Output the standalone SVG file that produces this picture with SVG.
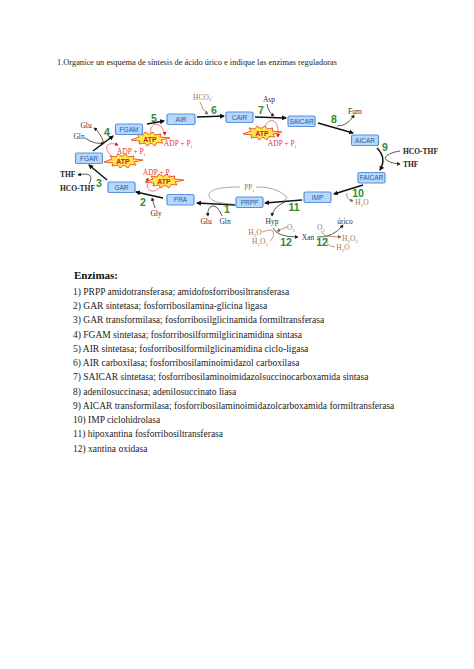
<svg xmlns="http://www.w3.org/2000/svg" width="474" height="669" viewBox="0 0 474 669">
<style>
text{font-family:"Liberation Serif",serif}
.t{font-size:9.5px;fill:#222}
.n rect{fill:#b5d8fb;stroke:#5c8fdc;stroke-width:1.2}
.n text{font-family:"Liberation Sans",sans-serif;font-size:6.5px;fill:#2a5aa0;text-anchor:middle}
.num{font-family:"Liberation Sans",sans-serif;font-size:10.5px;font-weight:bold;fill:#2f8a2f;text-anchor:middle}
.k{font-size:7.5px;fill:#333;text-anchor:middle}
.hk{font-size:7.5px;fill:#222;font-weight:bold}
.b{font-size:7.5px;fill:#a07a58;text-anchor:middle}
.r{font-size:7.5px;fill:#e8323c;text-anchor:middle}
.s{font-size:5px}
.main{fill:none;stroke:#111;stroke-width:1.5;marker-end:url(#ah)}
.thin{fill:none;stroke:#333;stroke-width:.8;marker-end:url(#as)}
.brown{fill:none;stroke:#a07a58;stroke-width:.8;marker-end:url(#ab)}
.bl{fill:none;stroke:#a58a70;stroke-width:.8}
.red{fill:none;stroke:#e8404a;stroke-width:.7;marker-end:url(#ar)}
.atp text{font-family:"Liberation Sans",sans-serif;font-size:7px;font-weight:bold;fill:#c8202a;text-anchor:middle}
</style>
<defs>
<marker id="ah" markerWidth="6" markerHeight="6" refX="4" refY="2.500" orient="auto" markerUnits="userSpaceOnUse"><path d="M0 0L5 2.500L0 5z" fill="#111"/></marker>
<marker id="as" markerWidth="5" markerHeight="5" refX="3" refY="2" orient="auto" markerUnits="userSpaceOnUse"><path d="M0 0L3.500 2L0 4z" fill="#222"/></marker>
<marker id="ab" markerWidth="5" markerHeight="5" refX="3" refY="2" orient="auto" markerUnits="userSpaceOnUse"><path d="M0 0L3.500 2L0 4z" fill="#8a6040"/></marker>
<marker id="ar" markerWidth="5" markerHeight="5" refX="3" refY="2" orient="auto" markerUnits="userSpaceOnUse"><path d="M0 0L3.500 2L0 4z" fill="#e01020"/></marker>
<path id="burst" d="M-19 1L-11-2L-13-5L-7-4L-5-7L-1-4.500L3-7L5-4L11-5L10-2L20-1L11 1L13 4L7 3.500L5 7L1 4L-3 7L-5 4L-11 5L-10 2z" fill="#ffe94a" stroke="#f04a20" stroke-width=".9"/>
</defs>
<text x="57" y="65" style="font-size:8.4px;fill:#222">1.Organice un esquema de síntesis de ácido úrico e indique las enzimas reguladoras</text>
<g id="connectors">
<path class="main" d="M235 205L197 203"/>
<path class="main" d="M163 198L136 192"/>
<path class="main" d="M107 180L89 165"/>
<path class="main" d="M93 151L113 136"/>
<path class="main" d="M147 124L164 121"/>
<path class="main" d="M197 117L224 116"/>
<path class="main" d="M255 117L286 118"/>
<path class="main" d="M318 123L353 133"/>
<path class="main" d="M377 148Q387 158 380 170"/>
<path class="main" d="M363 185L334 194"/>
<path class="main" d="M302 200L265 203"/>
<path class="thin" d="M85 138Q95 145 104 143"/>
<path class="thin" d="M104 143Q100 132 94 128"/>
<path class="thin" d="M89 184Q96 171 78 175"/>
<path class="thin" d="M155 208L152 198"/>
<path class="thin" d="M222 216Q218 205 212 206Q207 208 208 216"/>
<path class="thin" d="M267 104Q268 112 274 116"/>
<path class="thin" d="M337 126Q348 126 354 115"/>
<path class="thin" d="M400 151Q387 153 385 158Q387 163 400 164"/>
<path class="thin" d="M285 202Q273 207 272 216"/>
<path class="thin" d="M273 228Q277 237 298 237"/>
<path class="thin" d="M317 237Q333 238 343 225"/>
<path class="brown" d="M200 102Q202 110 208 114"/>
<path class="brown" d="M347 193Q345 199 353 201"/>
<path class="bl" d="M240 187C215 187 209 191 209 195C209 200 215 203 232 204"/>
<path class="bl" d="M256 187Q275 186 287 197L285 200"/>
<path class="brown" d="M287 227L277 231"/>
<path class="bl" d="M262 232Q268 230 272 230Q276 236 270 241"/>
<path class="brown" d="M321 231L325 236L341 237"/>
<path class="bl" d="M335 247Q325 246 327 238"/>
<path class="red" d="M152 135C146 124 162 118 165 135"/>
<path class="red" d="M113 157C103 150 105 140 118 145"/>
<path class="red" d="M160 187C150 197 145 187 148 178"/>
<path class="red" d="M265 127C268 118 277 118 278 130L278 137"/>
</g>
<g id="atp1" class="atp"><use href="#burst" x="150" y="139"/><text x="150" y="141.500">ATP</text></g>
<g id="atp2" class="atp"><use href="#burst" x="123" y="161"/><text x="123" y="163.500">ATP</text></g>
<g id="atp3" class="atp"><use href="#burst" x="164" y="181"/><text x="164" y="183.500">ATP</text></g>
<g id="atp4" class="atp"><use href="#burst" x="262" y="133"/><text x="262" y="135.500">ATP</text></g>
<g id="node-fgam" class="n"><rect x="115.500" y="124" width="27" height="10.500" rx="1.500"/><text x="129" y="131.500">FGAM</text></g>
<g id="node-air" class="n"><rect x="167" y="114" width="28" height="10.500" rx="1.500"/><text x="181" y="121.500">AIR</text></g>
<g id="node-cair" class="n"><rect x="226" y="112" width="27" height="10.500" rx="1.500"/><text x="239.500" y="119.500">CAIR</text></g>
<g id="node-saicar" class="n"><rect x="288" y="116" width="27" height="10.500" rx="1.500"/><text x="301.500" y="123.500">SAICAR</text></g>
<g id="node-aicar" class="n"><rect x="351.500" y="135" width="27" height="10.500" rx="1.500"/><text x="365" y="142.500">AICAR</text></g>
<g id="node-faicar" class="n"><rect x="358" y="172.500" width="27" height="10.500" rx="1.500"/><text x="371.500" y="180">FAICAR</text></g>
<g id="node-imp" class="n"><rect x="304" y="192" width="27" height="10.500" rx="1.500"/><text x="317.500" y="199.500">IMP</text></g>
<g id="node-prpp" class="n"><rect x="236" y="197" width="27" height="10.500" rx="1.500"/><text x="249.500" y="204.500">PRPP</text></g>
<g id="node-pra" class="n"><rect x="167" y="194.500" width="27" height="10.500" rx="1.500"/><text x="180.500" y="202">PRA</text></g>
<g id="node-gar" class="n"><rect x="108" y="182" width="27" height="10.500" rx="1.500"/><text x="121.500" y="189.500">GAR</text></g>
<g id="node-fgar" class="n"><rect x="75.500" y="153" width="27" height="10.500" rx="1.500"/><text x="89" y="160.500">FGAR</text></g>
<g id="labels">
<text class="num" x="227" y="213">1</text><text class="num" x="143" y="206">2</text><text class="num" x="99" y="187">3</text><text class="num" x="107" y="136">4</text><text class="num" x="154" y="122">5</text><text class="num" x="214" y="114">6</text><text class="num" x="261" y="114">7</text><text class="num" x="334" y="123">8</text><text class="num" x="385" y="151">9</text><text class="num" x="358" y="197">10</text><text class="num" x="294" y="211">11</text><text class="num" x="286" y="246">12</text><text class="num" x="322" y="246">12</text>
<text class="k" x="86" y="128">Glu</text><text class="k" x="79" y="139">Gln</text><text class="hk" x="60" y="177">THF</text><text class="hk" x="60" y="191">HCO-THF</text>
<text class="k" x="156" y="216">Gly</text><text class="k" x="206" y="224">Glu</text><text class="k" x="225" y="224">Gln</text>
<text class="k" x="269" y="102">Asp</text><text class="k" x="355" y="114">Fum</text><text class="hk" x="403" y="154">HCO-THF</text><text class="hk" x="403" y="167">THF</text>
<text class="k" x="272" y="224">Hyp</text><text class="k" x="308" y="240">Xan</text><text class="k" x="345" y="224">úrico</text>
<text class="b" x="203" y="99.500">HCO<tspan class="s" dy="1.500">3</tspan><tspan class="s" dy="-3">-</tspan></text>
<text class="r" x="178" y="146">ADP + P<tspan class="s" dy="1.500">i</tspan></text>
<text class="r" x="131" y="154">ADP + P<tspan class="s" dy="1.500">i</tspan></text>
<text class="r" x="157" y="175">ADP + P<tspan class="s" dy="1.500">i</tspan></text>
<text class="r" x="282" y="146">ADP + P<tspan class="s" dy="1.500">i</tspan></text>
<text class="b" x="249" y="190">PP<tspan class="s" dy="1.500">i</tspan></text>
<text class="b" x="362" y="205">H<tspan class="s" dy="1.500">2</tspan><tspan dy="-1.500">O</tspan></text>
<text class="b" x="291" y="230">O<tspan class="s" dy="1.500">2</tspan></text>
<text class="b" x="255" y="235">H<tspan class="s" dy="1.500">2</tspan><tspan dy="-1.500">O</tspan></text>
<text class="b" x="260" y="244">H<tspan class="s" dy="1.500">2</tspan><tspan dy="-1.500">O</tspan><tspan class="s" dy="1.500">2</tspan></text>
<text class="b" x="321" y="230">O<tspan class="s" dy="1.500">2</tspan></text>
<text class="b" x="350" y="241">H<tspan class="s" dy="1.500">2</tspan><tspan dy="-1.500">O</tspan><tspan class="s" dy="1.500">2</tspan></text>
<text class="b" x="343" y="250">H<tspan class="s" dy="1.500">2</tspan><tspan dy="-1.500">O</tspan></text>
</g>
<text x="74" y="279" style="font-size:11px;font-weight:bold;fill:#111">Enzimas:</text>
<g class="t">
<text x="73" y="295">1) PRPP amidotransferasa; amidofosforribosiltransferasa</text>
<text x="73" y="309">2) GAR sintetasa; fosforribosilamina-glicina ligasa</text>
<text x="73" y="323">3) GAR transformilasa; fosforribosilglicinamida formiltransferasa</text>
<text x="73" y="338">4) FGAM sintetasa; fosforribosilformilglicinamidina sintasa</text>
<text x="73" y="352">5) AIR sintetasa; fosforribosilformilglicinamidina ciclo-ligasa</text>
<text x="73" y="366">6) AIR carboxilasa; fosforribosilaminoimidazol carboxilasa</text>
<text x="73" y="380">7) SAICAR sintetasa; fosforribosilaminoimidazolsuccinocarboxamida sintasa</text>
<text x="73" y="395">8) adenilosuccinasa; adenilosuccinato liasa</text>
<text x="73" y="409">9) AICAR transformilasa; fosforribosilaminoimidazolcarboxamida formiltransferasa</text>
<text x="73" y="423">10) IMP ciclohidrolasa</text>
<text x="73" y="437">11) hipoxantina fosforribosiltransferasa</text>
<text x="73" y="452">12) xantina oxidasa</text>
</g>
</svg>
